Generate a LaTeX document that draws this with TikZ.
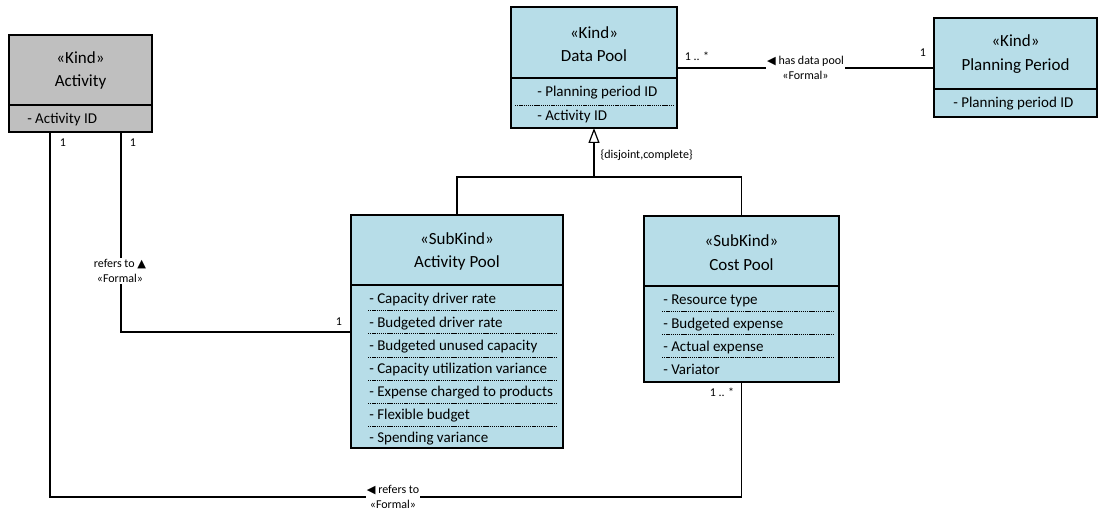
\documentclass[tikz,border=0pt]{standalone}
\usepackage{fontspec}
\setmainfont{Carlito}
\newfontfamily\symfont{DejaVu Sans}
\usetikzlibrary{arrows.meta,fit}
\definecolor{poolblue}{RGB}{183,221,232}
\definecolor{kindgray}{RGB}{191,191,191}
% small reading-direction triangle for association names
\newcommand{\readdir}[1]{{\symfont\fontsize{8.5}{8.5}\selectfont #1}}

\begin{document}
\begin{tikzpicture}[x=0.75pt,y=-0.75pt,
  box/.style={draw=black, line width=1.1pt, inner sep=0pt, outer sep=0pt},
  classtitle/.style={font=\fontsize{12.75}{17.5}\selectfont, align=center, inner sep=0pt},
  attr/.style={font=\fontsize{11.25}{13}\selectfont, anchor=base west, inner sep=0pt},
  lbl/.style={font=\fontsize{9}{11.25}\selectfont, inner sep=1pt, align=center},
  sep/.style={line width=0.5pt, dash pattern=on 1pt off 0.6pt},
  divider/.style={line width=1.1pt},
  conn/.style={line width=0.9pt},
]
\useasboundingbox (0,0) rectangle (1099,513);

% ---------- Activity ----------
\node[box, fill=kindgray, fit={(9,35) (152,132)}] (act) {};
\draw[divider] (9,105) -- (152,105);
\node[classtitle] (act-t) at (80.5,70.5) {«Kind»\\Activity};
\node[attr] (act-a1) at (27,124) {- Activity ID};

% ---------- Data Pool ----------
\node[box, fill=poolblue, fit={(511,7) (677,128)}] (dp) {};
\draw[divider] (511,78) -- (677,78);
\draw[sep] (515,105) -- (673,105);
\node[classtitle] (dp-t) at (594,44) {«Kind»\\Data Pool};
\node[attr] (dp-a1) at (537,97) {- Planning period ID};
\node[attr] (dp-a2) at (537,121) {- Activity ID};

% ---------- Planning Period ----------
\node[box, fill=poolblue, fit={(934,18) (1097,117)}] (pp) {};
\draw[divider] (934,89) -- (1097,89);
\node[classtitle] (pp-t) at (1015.5,54) {«Kind»\\Planning Period};
\node[attr] (pp-a1) at (953,108) {- Planning period ID};

% ---------- Activity Pool ----------
\node[box, fill=poolblue, fit={(351,215) (563,448)}] (ap) {};
\draw[divider] (351,285) -- (563,285);
\node[classtitle] (ap-t) at (457,251.5) {«SubKind»\\Activity Pool};
\foreach \y in {310,333,357,380,403,426} \draw[sep] (368,\y) -- (557,\y);
\node[attr] (ap-a1) at (369,303) {- Capacity driver rate};
\node[attr] (ap-a2) at (369,327) {- Budgeted driver rate};
\node[attr] (ap-a3) at (369,350) {- Budgeted unused capacity};
\node[attr] (ap-a4) at (369,373) {- Capacity utilization variance};
\node[attr] (ap-a5) at (369,396) {- Expense charged to products};
\node[attr] (ap-a6) at (369,419) {- Flexible budget};
\node[attr] (ap-a7) at (369,442) {- Spending variance};

% ---------- Cost Pool ----------
\node[box, fill=poolblue, fit={(644,216) (839,382)}] (cp) {};
\draw[divider] (644,286) -- (839,286);
\node[classtitle] (cp-t) at (741.5,252.5) {«SubKind»\\Cost Pool};
\foreach \y in {311,334,357} \draw[sep] (662,\y) -- (834,\y);
\node[attr] (cp-a1) at (663,305) {- Resource type};
\node[attr] (cp-a2) at (663,328) {- Budgeted expense};
\node[attr] (cp-a3) at (663,351) {- Actual expense};
\node[attr] (cp-a4) at (663,374) {- Variator};

% ---------- Generalization ----------
\coordinate (gen) at (594,177);
\draw[conn] (ap.north) |- (gen) -| (cp.north);
\draw[conn, -{Triangle[open, length=11.25pt, width=8.25pt]}] (gen) -- (dp.south);
\node[lbl, anchor=west] (gen-l) at (599,155) {\{disjoint,complete\}};

% ---------- has data pool ----------
\coordinate (hd) at (806,68);
\draw[conn] (dp.east |- hd) -- (pp.west |- hd)
  node[midway, lbl, fill=white] (hd-l) {\readdir{◀} has data pool\\«Formal»};
\node[lbl] (hd-m1) at (697,56) {1 .. *};
\node[lbl] (hd-m2) at (923,53) {1};

% ---------- refers to (Activity Pool) ----------
\coordinate (ra) at (121,332);
\draw[conn] (act.south -| ra) -- (ra) -- (ap.west |- ra);
\node[lbl, fill=white] (ra-l) at (120,271) {refers to \readdir{▲}\\«Formal»};
\node[lbl] (ra-m1) at (133,143) {1};
\node[lbl] (ra-m2) at (339,322) {1};

% ---------- refers to (Cost Pool) ----------
\coordinate (rb1) at (50,497);
\coordinate (rb2) at (cp.south |- rb1);
\draw[conn] (act.south -| rb1) -- (rb1) -- (rb2) -- (cp.south);
\node[lbl, fill=white] (rb-l) at (393,497) {\readdir{◀} refers to\\«Formal»};
\node[lbl] (rb-m1) at (63,143) {1};
\node[lbl] (rb-m2) at (722,392) {1 .. *};
\end{tikzpicture}
\end{document}
